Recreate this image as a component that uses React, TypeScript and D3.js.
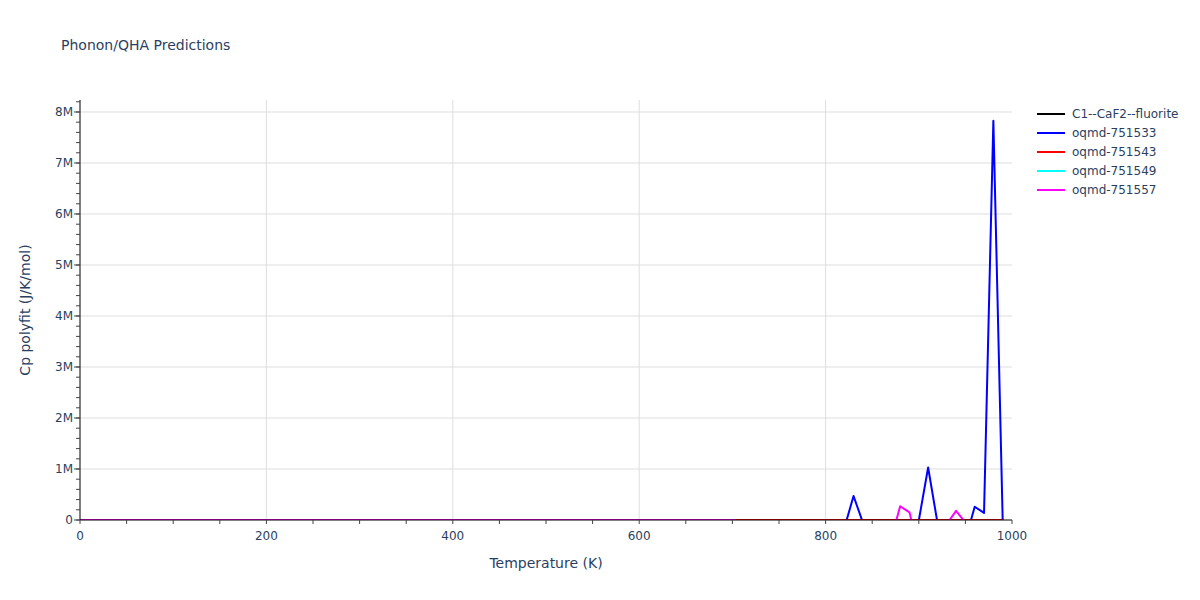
import React from 'react';
import * as d3 from 'd3';

// [temperature K, Cp J/K/mol]; flat stretches written as their end points
const seriesNames = ['C1--CaF2--fluorite', 'oqmd-751533', 'oqmd-751543', 'oqmd-751549', 'oqmd-751557'];
const seriesColors = ['#000000', '#0000ff', '#ff0000', '#00ffff', '#ff00ff'];

const fluorite: [number, number][] = [[0, 0], [990, 0]];
const oqmd751533: [number, number][] = [
  [0, 0], [810, 0], [820, -165000], [830, 470000], [840, -50000], [850, 0], [890, 0],
  [900, -10000], [910, 1030000], [920, -50000], [930, 0], [940, 0], [950, -390000],
  [960, 260000], [970, 140000], [980, 7830000], [990, 0],
];
const oqmd751543: [number, number][] = [[0, 0], [990, 0]];
const oqmd751549: [number, number][] = [[0, 0], [700, 0], [710, -50000], [990, -200000]];
const oqmd751557: [number, number][] = [
  [0, 0], [700, 0], [710, -50000], [860, -300000], [870, -400000], [880, 270000],
  [890, 150000], [900, -600000], [930, -80000], [940, 180000], [950, -50000], [990, -300000],
];
const seriesData = [fluorite, oqmd751533, oqmd751543, oqmd751549, oqmd751557];

const xTickValues = [0, 200, 400, 600, 800, 1000];
const yTickValues = [0, 1e6, 2e6, 3e6, 4e6, 5e6, 6e6, 7e6, 8e6];

const W = 1200;
const H = 600;
const margin = { left: 80, right: 188, top: 100, bottom: 80 };
const font = '"DejaVu Sans", verdana, arial, sans-serif';
const textColor = '#2a3f5f';

export default function App() {
  const x = d3.scaleLinear().domain([0, 1000]).range([margin.left, W - margin.right]);
  const y = d3.scaleLinear().domain([0, 8.235e6]).range([H - margin.bottom, margin.top]);
  const line = d3.line<[number, number]>().x(d => x(d[0])).y(d => y(d[1]));

  const xMinor = d3.range(0, 1001, 50);
  const yMinor = d3.range(0, 8.2e6 + 1, 2e5);
  const fmtY = (v: number) => (v === 0 ? '0' : `${v / 1e6}M`);

  const x0 = x(0);
  const x1 = x(1000);
  const yb = y(0);
  const yt = y.range()[1];

  return (
    <svg width={W} height={H} style={{ position: 'absolute', left: 0, top: 0, background: '#fff' }} fontFamily={font}>
      <defs>
        <clipPath id="plot-clip">
          <rect x={x0} y={yt} width={x1 - x0} height={yb - yt} />
        </clipPath>
      </defs>

      <text x={61} y={50} fontSize={14} fill={textColor}>Phonon/QHA Predictions</text>

      {/* grid */}
      {yTickValues.filter(v => v > 0).map(v => (
        <line key={`gy${v}`} x1={x0} x2={x1} y1={y(v)} y2={y(v)} stroke="#dedede" strokeWidth={1} />
      ))}
      {xTickValues.filter(v => v > 0 && v < 1000).map(v => (
        <line key={`gx${v}`} x1={x(v)} x2={x(v)} y1={yt} y2={yb} stroke="#dedede" strokeWidth={1} />
      ))}

      {/* series */}
      <g clipPath="url(#plot-clip)">
        {seriesData.map((d, i) => (
          <path key={seriesNames[i]} d={line(d) || ''} fill="none" stroke={seriesColors[i]} strokeWidth={2} strokeLinejoin="round" />
        ))}
      </g>

      {/* axes */}
      <line x1={x0} x2={x0} y1={yt} y2={yb} stroke="#000" strokeWidth={1} />
      <line x1={x0} x2={x1} y1={yb} y2={yb} stroke="#000" strokeWidth={1} />
      {xMinor.map(v => (
        <line key={`tx${v}`} x1={x(v)} x2={x(v)} y1={yb} y2={yb + 4} stroke="#444" strokeWidth={1} />
      ))}
      {yMinor.map(v => (
        <line key={`ty${v}`} x1={x0 - 4} x2={x0} y1={y(v)} y2={y(v)} stroke="#444" strokeWidth={1} />
      ))}
      {yTickValues.map(v => (
        <g key={`ly${v}`}>
          <line x1={x0 - 6} x2={x0} y1={y(v)} y2={y(v)} stroke="#444" strokeWidth={1} />
          <text x={x0 - 7} y={y(v)} dy="0.35em" textAnchor="end" fontSize={12} fill={textColor}>{fmtY(v)}</text>
        </g>
      ))}
      {xTickValues.map(v => (
        <text key={`lx${v}`} x={x(v)} y={yb + 20} textAnchor="middle" fontSize={12} fill={textColor}>{v}</text>
      ))}

      <text x={(x0 + x1) / 2} y={568} textAnchor="middle" fontSize={14} fill={textColor}>Temperature (K)</text>
      <text transform={`translate(30,${(yt + yb) / 2}) rotate(-90)`} textAnchor="middle" fontSize={14} fill={textColor}>Cp polyfit (J/K/mol)</text>

      {/* legend */}
      {seriesNames.map((name, i) => (
        <g key={`lg${name}`} transform={`translate(1037,${114 + i * 19})`}>
          <line x1={0} x2={28} y1={0} y2={0} stroke={seriesColors[i]} strokeWidth={2} />
          <text x={35} y={0} dy="0.35em" fontSize={12} fill={textColor}>{name}</text>
        </g>
      ))}
    </svg>
  );
}
